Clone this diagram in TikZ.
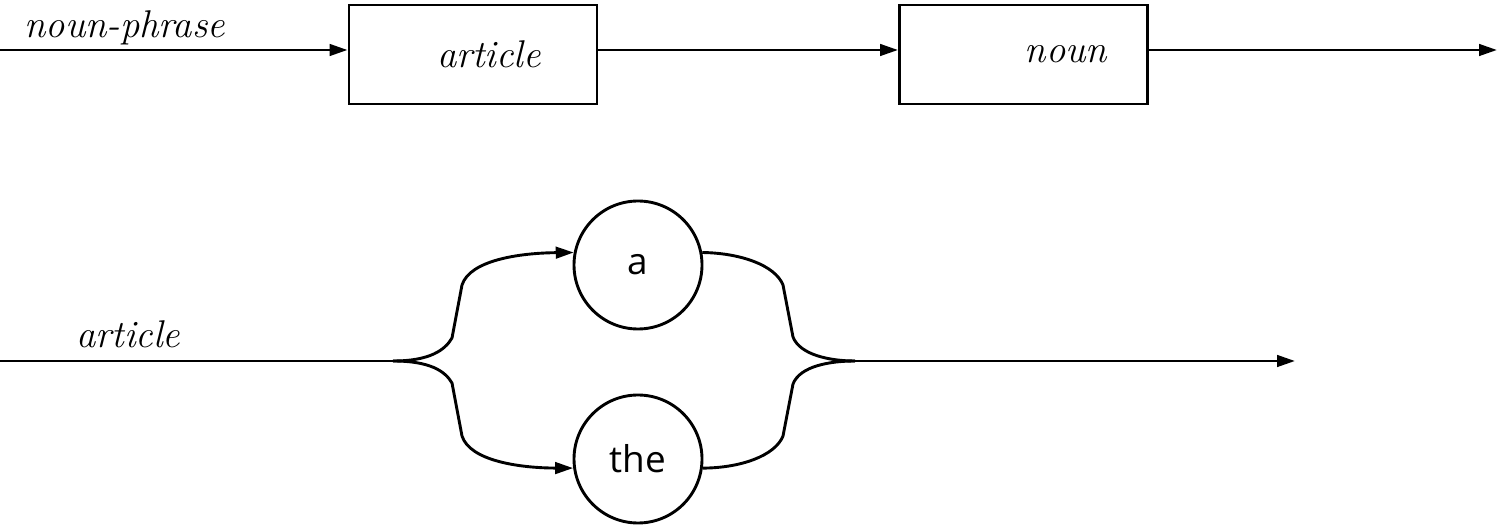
\documentclass[tikz,border=0pt]{standalone}
\usepackage{fontspec}
\newfontfamily\wordfont{Open Sans}
\usepackage{tikz}
\usetikzlibrary{arrows.meta}

\begin{document}
\begin{tikzpicture}[line width=1.65pt,
  rulebox/.style={rectangle, draw, minimum width=4.96cm, minimum height=1.98cm, inner sep=0pt, font=\fontsize{22}{26}\selectfont\itshape},
  word/.style={circle, draw, minimum size=2.56cm, inner sep=0pt, font=\fontsize{21}{25}\selectfont\wordfont},
  rulename/.style={anchor=base west, inner sep=0pt, font=\fontsize{22}{26}\selectfont\itshape},
  tip/.style={-{Triangle[length=0.36cm,width=0.23cm]}}]
\useasboundingbox (0,0) rectangle (29.94,-10.52);

% noun-phrase
\coordinate (np) at (0,-1.0);
\coordinate (npend) at (29.94,-1.0);
\node [rulename] (nplabel) at (0.46,-0.76) {noun-phrase};
\node [rulebox] (b1) at (9.46,-1.09) {\hspace{0.64cm}article};
\node [rulebox] (b2) at (20.47,-1.09) {\hspace{1.7cm}noun};

\draw[tip] (np) -- (np -| b1.west);
\draw[tip] (np -| b1.east) -- (np -| b2.west);
\draw[tip] (np -| b2.east) -- (npend);

% article
\coordinate (art) at (0,-7.22);
\coordinate (split) at (7.86,-7.22);
\coordinate (merge) at (17.1,-7.22);
\coordinate (artend) at (25.9,-7.22);
\node [rulename] (artlabel) at (1.5,-6.96) {article};
\node [word] (w1) at (12.76,-5.30) {a};
\node [word] (w2) at (12.76,-9.18) {the};

\draw (art) -- (split);
\draw[tip] (split) .. controls (8.6,-7.22) and (8.9,-7.0) .. (9.04,-6.76)
  -- (9.24,-5.7) .. controls (9.4,-5.2) and (10.4,-5.06) .. (w1.169);
\draw[tip] (split) .. controls (8.6,-7.22) and (8.9,-7.42) .. (9.04,-7.66)
  -- (9.24,-8.72) .. controls (9.4,-9.22) and (10.4,-9.36) .. (w2.188);
\draw (w1.11) .. controls (14.8,-5.06) and (15.5,-5.3) .. (15.66,-5.7)
  -- (15.86,-6.74) .. controls (16.0,-7.1) and (16.6,-7.22) .. (merge);
\draw (w2.352) .. controls (14.8,-9.36) and (15.5,-9.12) .. (15.66,-8.72)
  -- (15.86,-7.68) .. controls (16.0,-7.32) and (16.6,-7.22) .. (merge);
\draw[tip] (merge) -- (artend);
\end{tikzpicture}
\end{document}
